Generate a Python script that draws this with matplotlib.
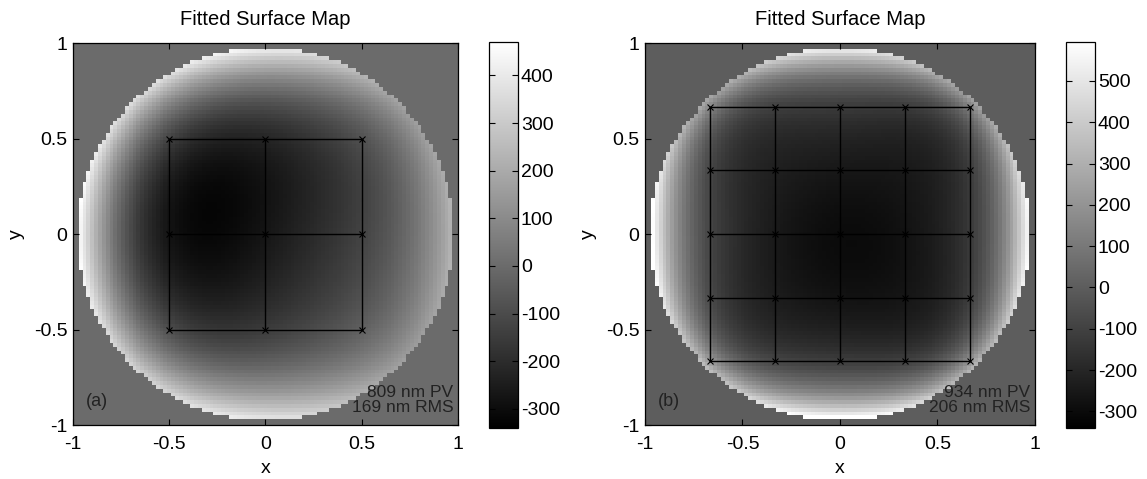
import numpy as np
import matplotlib
matplotlib.use("Agg")
import matplotlib.pyplot as plt

plt.rcParams['font.family'] = ['Liberation Sans', 'DejaVu Sans']

# ---------------- data ----------------
titles = ["Fitted Surface Map", "Fitted Surface Map"]
panel_tags = ["(a)", "(b)"]
pv_texts = ["809 nm PV\n169 nm RMS", "934 nm PV\n206 nm RMS"]
clims_a = [-340, 470]
clims_b = [-340, 594]
cbar_ticks_a = [-300, -200, -100, 0, 100, 200, 300, 400]
cbar_ticks_b = [-300, -200, -100, 0, 100, 200, 300, 400, 500]
axis_ticks = [-1, -0.5, 0, 0.5, 1]
axis_tick_labels = ['-1', '-0.5', '0', '0.5', '1']
grid_a = [-0.5, 0.0, 0.5]
grid_b = [-2/3, -1/3, 0.0, 1/3, 2/3]
aperture_radius = 0.977
pixel_step = 0.02
background_value = 0.0

# surface height readings (x, y, nm) for panel (a)
pts_a_x = [-0.17, 0, 0.2, -0.5, 0.5, -0.8, 0.8, -0.96, 0.96,
           0, 0, 0, 0, 0, 0,
           0.5, -0.5, 0.5, -0.5, 0.66, -0.66, 0.66, -0.66,
           0.5, -0.5, 0.5, -0.5, 0.85, -0.85, 0.85, -0.85]
pts_a_y = [0.06, 0, 0, 0, 0, 0, 0, 0, 0,
           0.5, -0.5, 0.8, -0.8, 0.96, -0.96,
           0.5, 0.5, -0.5, -0.5, 0.66, 0.66, -0.66, -0.66,
           0.8, 0.8, -0.8, -0.8, 0.4, 0.4, -0.4, -0.4]
pts_a_z = [-340, -270, -213, -229, -102, 150, 57, 437, 230,
           -197, -165, 40, 136, 390, 358,
           -86, -197, -54, -150, 136, 295, 160, 279,
           215, 295, 200, 263, 104, 263, 104, 250]

# surface height readings (x, y, nm) for panel (b)
pts_b_x = [0.085, 0, -0.33, 0.33, -0.67, 0.67, -0.85, 0.85, -0.96, 0.96,
           0, 0, 0, 0, 0, 0, 0, 0,
           -0.67, 0.67, -0.67, 0.67,
           -0.33, 0.33, -0.33, 0.33, -0.67, -0.67, 0.67, 0.67,
           0.33, -0.33, 0.33, -0.33,
           -0.8, 0.8, -0.8, 0.8, -0.5, 0.5, -0.5, 0.5]
pts_b_y = [-0.075, 0, 0, 0, 0, 0, 0, 0, 0, 0,
           0.33, -0.33, 0.67, -0.67, 0.85, -0.85, 0.96, -0.96,
           0.67, 0.67, -0.67, -0.67,
           0.67, 0.67, -0.67, -0.67, 0.33, -0.33, 0.33, -0.33,
           0.33, 0.33, -0.33, -0.33,
           0.5, 0.5, -0.5, -0.5, 0.8, 0.8, -0.8, -0.8]
pts_b_z = [-345, -305, -230, -275, -110, -130, 210, 173, 540, 540,
           -230, -265, -150, -110, 136, 246, 466, 540,
           60, 40, 100, 70,
           -120, -130, -90, -110, -90, -70, -110, -110,
           -212, -200, -270, -212,
           320, 283, 392, 320, 320, 246, 392, 356]


def basis(x, y):
    r2 = x**2 + y**2
    return np.stack([np.ones_like(x), x, y, r2, x**2 - y**2, x*y,
                     x*r2, y*r2, r2**2, x**4 - 6*x**2*y**2 + y**4,
                     r2**3], axis=-1)


def surface(px, py, pz):
    px = np.asarray(px, float)
    py = np.asarray(py, float)
    pz = np.asarray(pz, float)
    coef, *_ = np.linalg.lstsq(basis(px, py), pz, rcond=None)
    centers = np.arange(-1.0, 1.0 + 1e-9, pixel_step)
    X, Y = np.meshgrid(centers, centers)
    Z = basis(X, Y) @ coef
    Z = np.where(X**2 + Y**2 <= aperture_radius**2, Z, background_value)
    edges = np.concatenate([centers - pixel_step / 2, [centers[-1] + pixel_step / 2]])
    return edges, Z


fig = plt.figure(figsize=(11.47, 4.79), dpi=100)

layout = [
    ([0.0636, 0.1127, 0.3357, 0.7975], [0.4263, 0.1065, 0.0253, 0.8058]),
    ([0.5623, 0.1127, 0.3400, 0.7975], [0.9294, 0.1065, 0.0253, 0.8058]),
]
pts = [(pts_a_x, pts_a_y, pts_a_z), (pts_b_x, pts_b_y, pts_b_z)]
clims = [clims_a, clims_b]
cticks = [cbar_ticks_a, cbar_ticks_b]
grids = [grid_a, grid_b]

for i in range(2):
    ax = fig.add_axes(layout[i][0])
    cax = fig.add_axes(layout[i][1])
    edges, Z = surface(*pts[i])
    Z = np.clip(Z, clims[i][0], clims[i][1])
    mesh = ax.pcolormesh(edges, edges, Z, cmap='gray', vmin=clims[i][0], vmax=clims[i][1],
                         shading='flat', rasterized=True)
    g = grids[i]
    for v in g:
        ax.plot([g[0], g[-1]], [v, v], color='black', lw=1.0)
        ax.plot([v, v], [g[0], g[-1]], color='black', lw=1.0)
    GX, GY = np.meshgrid(g, g)
    ax.plot(GX.ravel(), GY.ravel(), linestyle='none', marker='x', color='black',
            markersize=4.5, markeredgewidth=0.8)
    ax.set_xlim(-1, 1)
    ax.set_ylim(-1, 1)
    ax.set_xticks(axis_ticks)
    ax.set_yticks(axis_ticks)
    ax.set_xticklabels(axis_tick_labels)
    ax.set_yticklabels(axis_tick_labels)
    ax.tick_params(direction='in', top=True, right=True, length=4, labelsize=14,
                   width=0.8)
    ax.tick_params(axis='x', pad=8)
    ax.tick_params(axis='y', pad=4)
    ax.set_xlabel('x', fontsize=14, labelpad=5)
    ax.set_ylabel('y', fontsize=14, labelpad=6)
    ax.set_title(titles[i], fontsize=14.5, pad=13)
    ax.text(-0.935, -0.875, panel_tags[i], fontsize=13, ha='left', va='center',
            color='#222222')
    ax.text(0.975, -0.945, pv_texts[i], fontsize=12.5, ha='right', va='bottom',
            color='#222222', linespacing=1.0)
    for s in ax.spines.values():
        s.set_linewidth(0.9)

    cb = fig.colorbar(mesh, cax=cax, ticks=cticks[i])
    cb.ax.set_yticklabels([str(t) for t in cticks[i]])
    cb.ax.tick_params(direction='in', left=True, right=True, length=4, labelsize=14,
                      width=0.8, pad=2)
    cb.outline.set_linewidth(0.9)

fig.savefig('out.png', dpi=100)
